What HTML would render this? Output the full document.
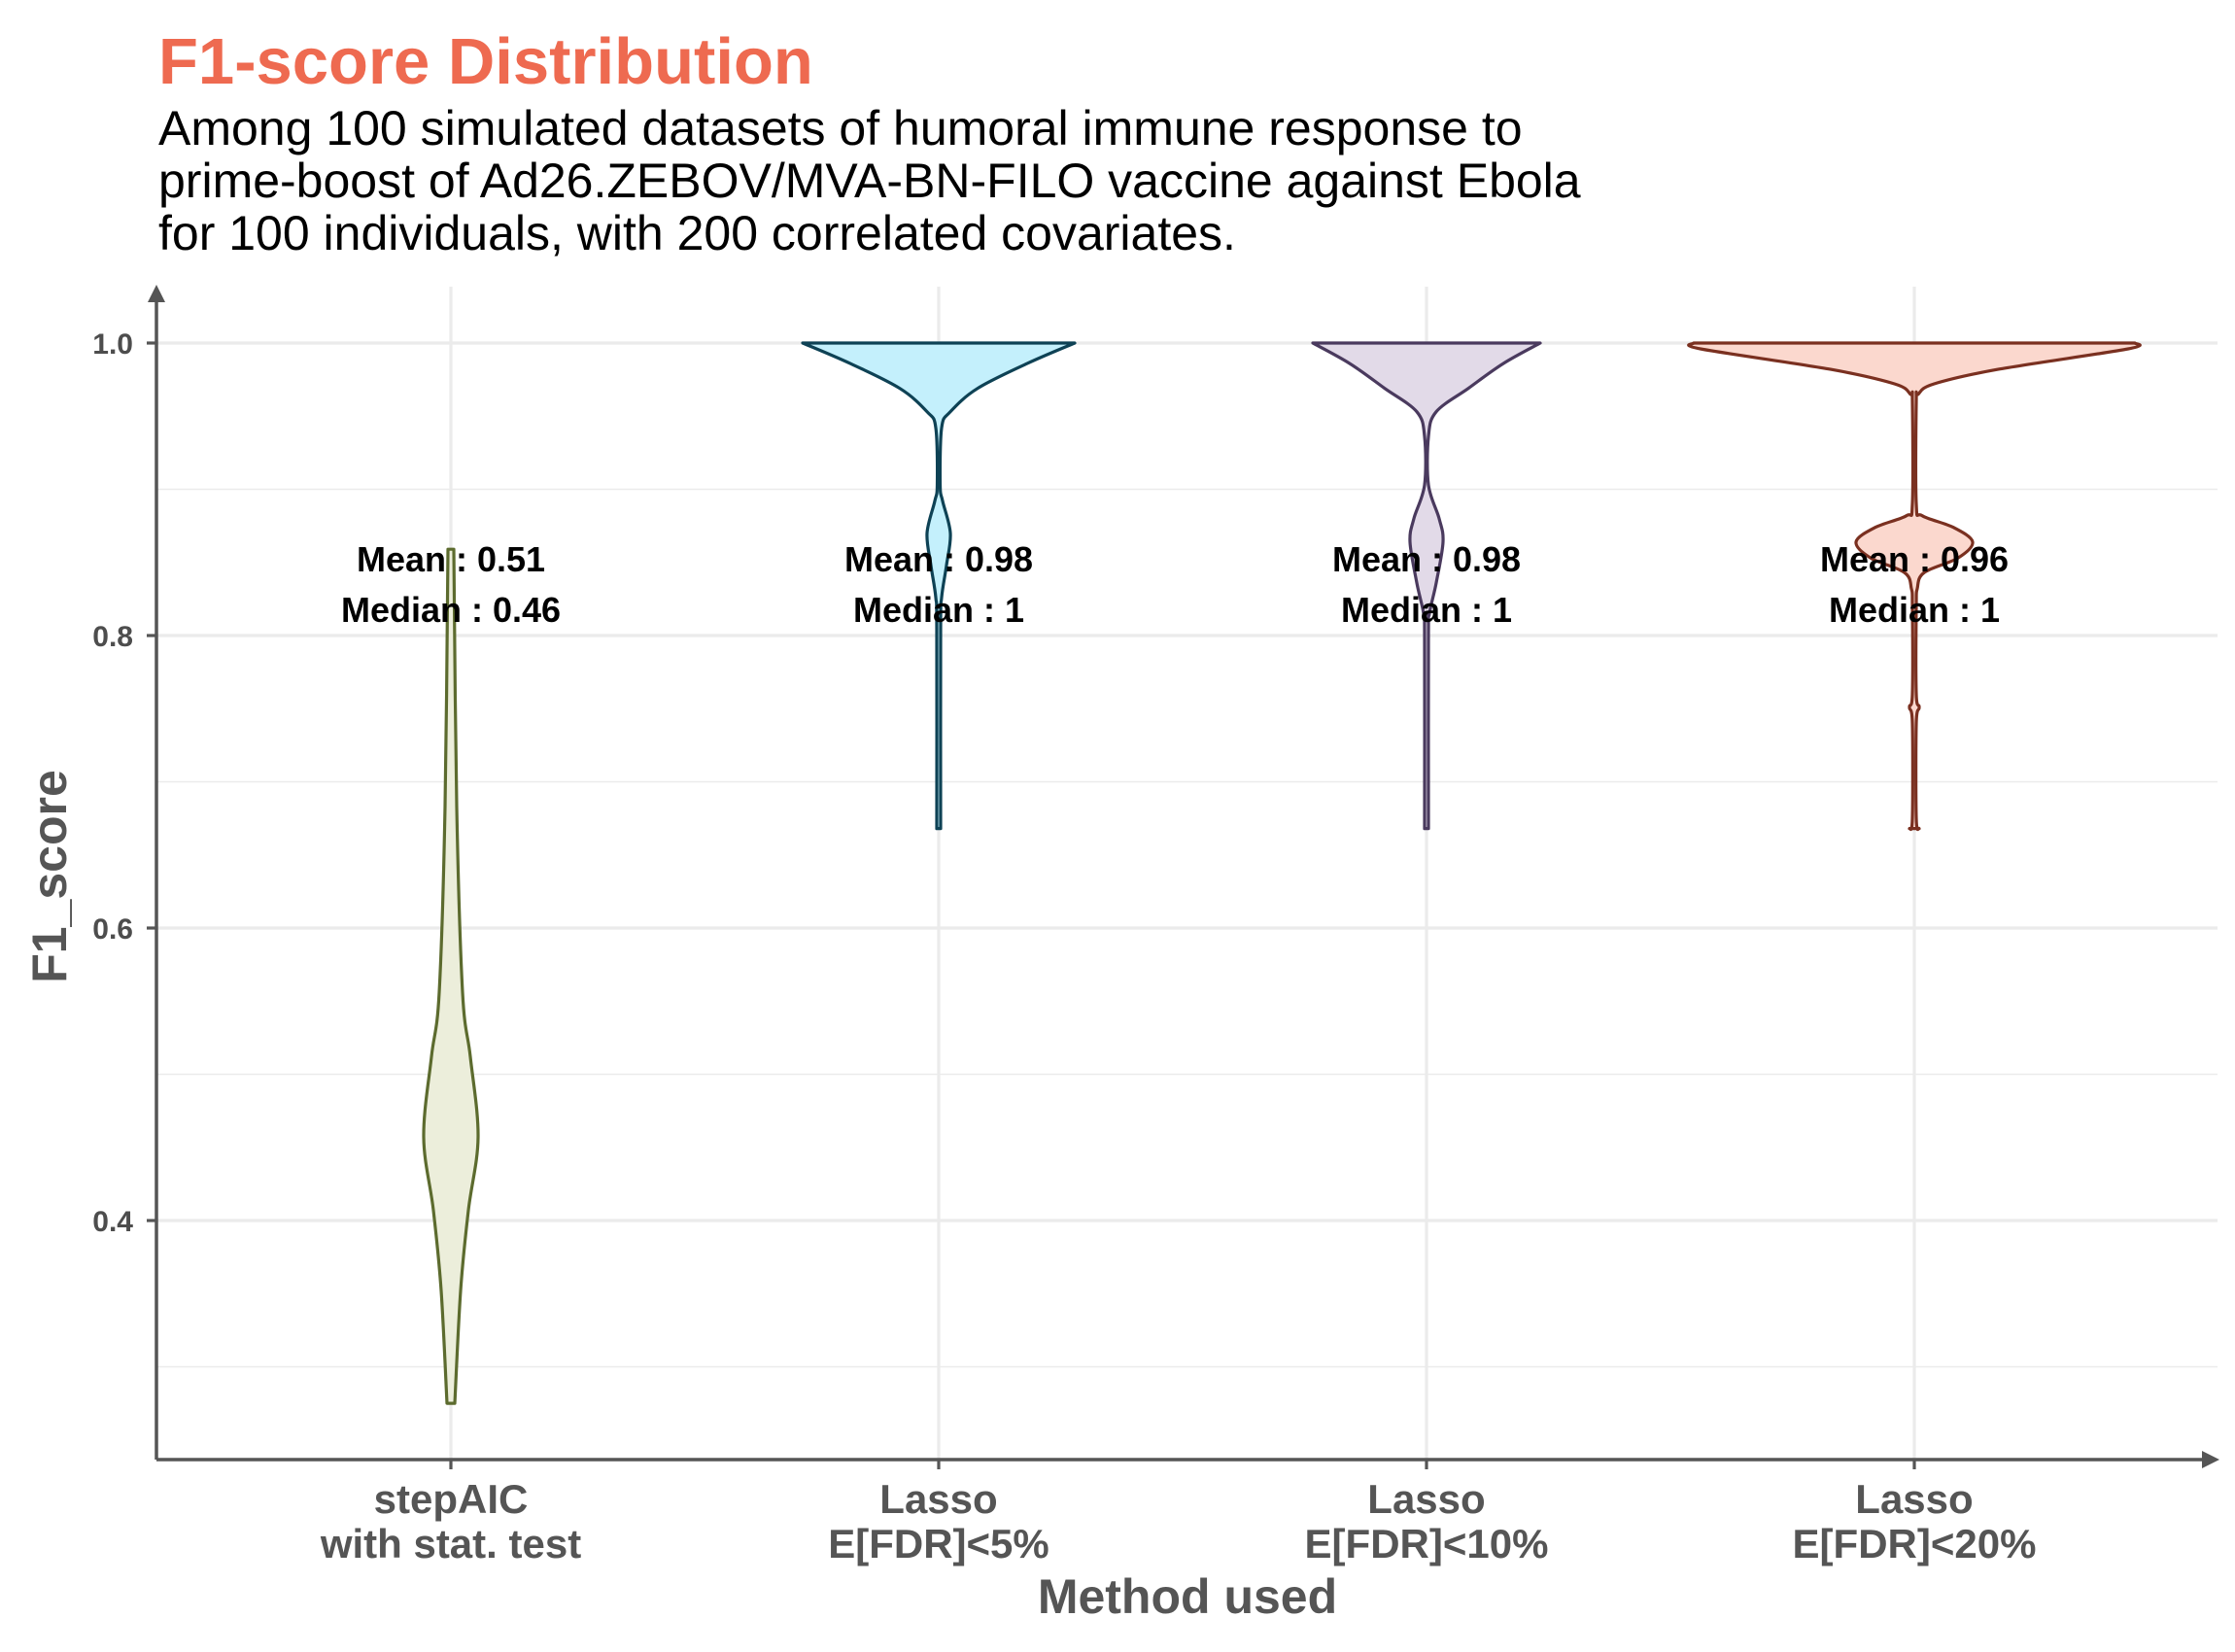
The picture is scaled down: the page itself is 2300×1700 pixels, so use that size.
<!DOCTYPE html>
<html><head><meta charset="utf-8"><style>
html,body{margin:0;padding:0;background:#fff;}
svg{display:block;font-family:"Liberation Sans",Arial,sans-serif;}
</style></head><body>
<svg id="chart" width="2300" height="1700" viewBox="0 0 2300 1700" xmlns="http://www.w3.org/2000/svg">
<text x="163" y="86" font-size="67" font-weight="bold" fill="#EE6A50">F1-score Distribution</text>
<g font-size="50" fill="#000">
<text x="163" y="149">Among 100 simulated datasets of humoral immune response to</text>
<text x="163" y="203">prime-boost of Ad26.ZEBOV/MVA-BN-FILO vaccine against Ebola</text>
<text x="163" y="257">for 100 individuals, with 200 correlated covariates.</text>
</g>
<g id="grid"></g>
<g id="violins"></g>
<g id="annots"></g>
<g id="axes"></g>
<text transform="translate(68,902) rotate(-90)" text-anchor="middle" font-size="50" font-weight="bold" fill="#555">F1_score</text>
<text x="1222" y="1660" text-anchor="middle" font-size="50" font-weight="bold" fill="#555">Method used</text>
</svg>
<script>
const categories = ["stepAIC|with stat. test","Lasso|E[FDR]<5%","Lasso|E[FDR]<10%","Lasso|E[FDR]<20%"];
const meanLabels = ["0.51","0.98","0.98","0.96"];
const medianLabels = ["0.46","1","1","1"];
const yTicks = [0.4,0.6,0.8,1.0];
const yMinor = [0.3,0.5,0.7,0.9];
const fills = ["#ECEEDB","#C4F0FC","#E2DAE8","#FBD8CE"];
const strokes = ["#5C6B2E","#0E4255","#4A3A5E","#7A3020"];
const v1Levels = [0.275,0.352,0.407,0.457,0.512,0.556,0.683,0.859];
const v1Dens = [4,10,18,28,20,12,6,3];
const v2Levels = [0.668,0.804,0.826,0.848,0.870,0.892,0.903,0.942,0.953,0.969,0.986,1.0];
const v2Dens = [2,2,3,8,12,4,1.5,3,12,40,91,140];
const v3Levels = [0.668,0.80,0.815,0.836,0.864,0.880,0.903,0.936,0.953,0.969,0.986,1.0];
const v3Dens = [2,2,3,10,17,13,2,2,10,43,79,117];
const v4Levels = [0.668,0.675,0.74,0.751,0.76,0.82,0.832,0.843,0.853,0.864,0.874,0.882,0.89,0.96,0.965,0.972,0.982,0.996,1.0];
const v4Dens = [5,2,2,5,2,2,3,10,45,60,40,8,2,2,4,20,86,220,227];
const levels = [v1Levels,v2Levels,v3Levels,v4Levels];
const dens = [v1Dens,v2Dens,v3Dens,v4Dens];

const NS="http://www.w3.org/2000/svg";
const X0=161, X1=2282, Ytop=295, Ybot=1502;
const xPos = i => 464 + i*502;
const yPos = v => 353 + (1.0 - v)*1505;
function mk(tag, attrs, parent){const e=document.createElementNS(NS,tag);for(const k in attrs)e.setAttribute(k,attrs[k]);parent.appendChild(e);return e;}
const grid=document.getElementById('grid'), vg=document.getElementById('violins'), ag=document.getElementById('annots'), ax=document.getElementById('axes');

yMinor.forEach(v=>{const l=mk('line',{x1:X0,x2:X1,y1:yPos(v),y2:yPos(v),stroke:'#EBEBEB','stroke-width':1.6},grid);

});
yTicks.forEach(v=>{const l=mk('line',{x1:X0,x2:X1,y1:yPos(v),y2:yPos(v),stroke:'#EBEBEB','stroke-width':3.2},grid);

});
categories.forEach((c,i)=>{const l=mk('line',{x1:xPos(i),x2:xPos(i),y1:Ytop,y2:Ybot,stroke:'#EBEBEB','stroke-width':3.2},grid);

});

function smoothPts(pts){
  let d='';
  for(let i=0;i<pts.length-1;i++){
    const p0=pts[Math.max(0,i-1)],p1=pts[i],p2=pts[i+1],p3=pts[Math.min(pts.length-1,i+2)];
    const c1=[p1[0]+(p2[0]-p0[0])/6,p1[1]+(p2[1]-p0[1])/6];
    const c2=[p2[0]-(p3[0]-p1[0])/6,p2[1]-(p3[1]-p1[1])/6];
    d+=` C${c1[0].toFixed(1)},${c1[1].toFixed(1)} ${c2[0].toFixed(1)},${c2[1].toFixed(1)} ${p2[0].toFixed(1)},${p2[1].toFixed(1)}`;
  }
  return d;
}
categories.forEach((c,i)=>{
  const cx=xPos(i), L=levels[i], D=dens[i];
  const right=L.map((v,k)=>[cx+D[k],yPos(v)]);
  const left=L.map((v,k)=>[cx-D[k],yPos(v)]).reverse();
  let d=`M${cx},${yPos(L[0])} L${right[0][0]},${right[0][1]}`+smoothPts(right)+` L${left[0][0]},${left[0][1]}`+smoothPts(left)+' Z';
  const p=mk('path',{d:d,fill:fills[i],stroke:strokes[i],'stroke-width':3.2,'stroke-linejoin':'round'},vg);
  
  
  const t1=mk('text',{x:cx,y:588,'text-anchor':'middle','font-size':36,'font-weight':'bold',fill:'#000'},ag);
  t1.textContent='Mean : '+meanLabels[i];
  
  
  const t2=mk('text',{x:cx,y:640,'text-anchor':'middle','font-size':36,'font-weight':'bold',fill:'#000'},ag);
  t2.textContent='Median : '+medianLabels[i];
  
  
  const parts=c.split('|');
  parts.forEach((s,k)=>{const t=mk('text',{x:cx,y:1557+k*46,'text-anchor':'middle','font-size':42,'font-weight':'bold',fill:'#555'},ax);
    t.textContent=s;
    
    });
  const tk=mk('line',{x1:cx,x2:cx,y1:Ybot,y2:Ybot+10,stroke:'#555','stroke-width':3.2},ax);
  
  
});
yTicks.forEach(v=>{
  const t=mk('text',{x:137,y:yPos(v)+11,'text-anchor':'end','font-size':30,'font-weight':'bold',fill:'#4D4D4D'},ax);
  t.textContent=v.toFixed(1);
  
  
  const tk=mk('line',{x1:X0-10,x2:X0,y1:yPos(v),y2:yPos(v),stroke:'#555','stroke-width':3.2},ax);
  
  
});
const ya=mk('line',{x1:X0,x2:X0,y1:Ybot,y2:Ytop+8,stroke:'#555','stroke-width':3.5},ax);


const yh=mk('path',{d:`M${X0-9},${Ytop+16} L${X0},${Ytop-2} L${X0+9},${Ytop+16} Z`,fill:'#555'},ax);


const xa=mk('line',{x1:X0,x2:X1-6,y1:Ybot,y2:Ybot,stroke:'#555','stroke-width':3.5},ax);


const xh=mk('path',{d:`M${X1-16},${Ybot-9} L${X1+2},${Ybot} L${X1-16},${Ybot+9} Z`,fill:'#555'},ax);


</script>
</body></html>
